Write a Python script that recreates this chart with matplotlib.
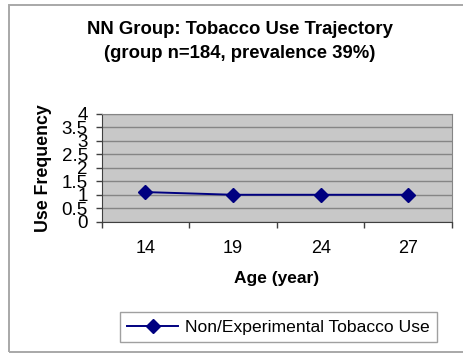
import matplotlib
matplotlib.use("Agg")
import matplotlib.pyplot as plt
from matplotlib.patches import Rectangle

plt.rcParams['font.family'] = ['Liberation Sans', 'DejaVu Sans']

# tobacco use trajectory for the NN group
ages = ['14', '19', '24', '27']
use_freq = [1.1, 1.0, 1.0, 1.0]
yticks = [0, 0.5, 1, 1.5, 2, 2.5, 3, 3.5, 4]
ytick_labels = ['0', '0.5', '1', '1.5', '2', '2.5', '3', '3.5', '4']

fig = plt.figure(figsize=(4.63, 3.53), dpi=100)
ax = fig.add_axes([101.7 / 463, 1 - 221.7 / 353, (452 - 101.7) / 463, (221.7 - 114) / 353])

# outer chart border
fig.patches.append(Rectangle((8.5 / 463, 1.3 / 353), 1.0, 346.5 / 353, transform=fig.transFigure,
                             fill=False, edgecolor='#a8a8a8', linewidth=1.4))

ax.set_facecolor('#c8c8c8')
x = list(range(len(ages)))
ax.plot(x, use_freq, color='#000080', linewidth=1.4, marker='D', markersize=7.5,
        markerfacecolor='#000080', markeredgecolor='#000080', clip_on=False,
        label='Non/Experimental Tobacco Use')

ax.set_xlim(-0.5, len(ages) - 0.5)
ax.set_ylim(0, 4)
ax.set_yticks(yticks)
ax.set_yticklabels(ytick_labels)
ax.yaxis.grid(True, color='#858585', linewidth=1.0)
ax.set_axisbelow(True)

# category boundaries get the tick marks, labels sit in the middle
ax.set_xticks([i - 0.5 for i in range(len(ages) + 1)])
ax.set_xticklabels([])
ax.set_xticks(x, minor=True)
ax.set_xticklabels(ages, minor=True)
ax.tick_params(axis='x', which='minor', length=0, pad=13, labelsize=13)
ax.tick_params(axis='x', which='major', length=4, width=1, color='#404040')
ax.tick_params(axis='y', length=4, width=1, color='#404040', pad=6, labelsize=13.5)

for side in ['top', 'right']:
    ax.spines[side].set_color('#858585')
ax.spines['left'].set_color('#404040')
ax.spines['bottom'].set_color('#404040')

fig.text(0.518, 1 - 29 / 353, 'NN Group: Tobacco Use Trajectory', ha='center', va='center',
         fontsize=13.3, fontweight='bold')
fig.text(0.518, 1 - 53 / 353, '(group n=184, prevalence 39%)', ha='center', va='center',
         fontsize=13.3, fontweight='bold')
ax.set_ylabel('Use Frequency', fontsize=12.8, fontweight='bold', labelpad=7)
ax.set_xlabel('Age (year)', fontsize=12.5, fontweight='bold', labelpad=10)

leg = fig.legend(loc='center', bbox_to_anchor=(278.5 / 463, 1 - 327 / 353), fontsize=12.6,
                 frameon=True, fancybox=False, edgecolor='#888888', handlelength=2.9,
                 borderpad=0.4, handletextpad=0.4)
leg.get_frame().set_linewidth(1.0)

fig.savefig('out.png', dpi=100)
